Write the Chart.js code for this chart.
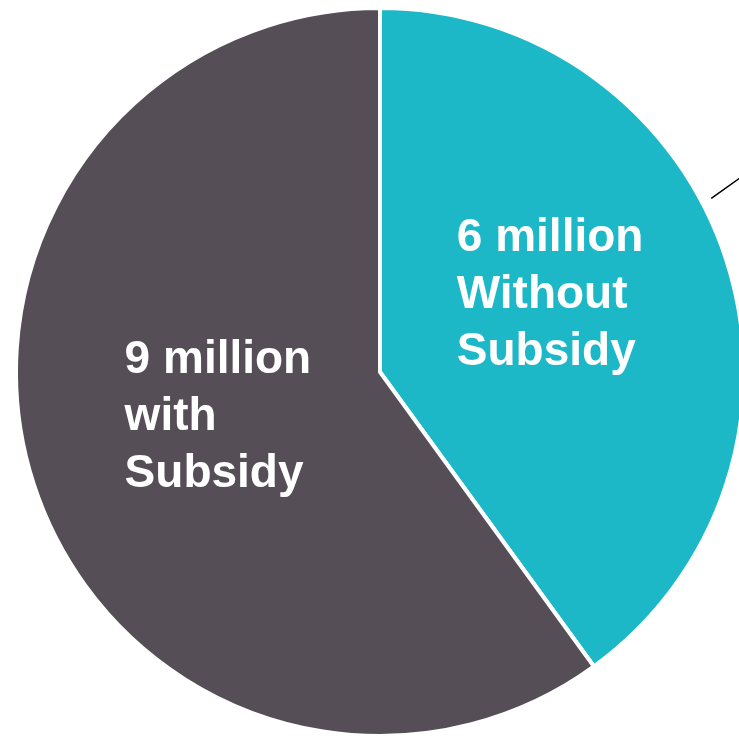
<!DOCTYPE html>
<html>
<head>
<meta charset="utf-8">
<script src="https://cdn.jsdelivr.net/npm/chart.js@4"></script>
<style>
  html, body { margin: 0; padding: 0; background: #ffffff; }
  #wrap { width: 739px; height: 738px; position: relative; overflow: hidden; }
</style>
</head>
<body>
<div id="wrap"><canvas id="subsidy-pie" width="739" height="738"></canvas></div>
<script>
  const categories = ["6 million Without Subsidy", "9 million with Subsidy"];
  const labelLines = [
    ["6 million", "Without", "Subsidy"],
    ["9 million", "with", "Subsidy"]
  ];
  const values = [6, 9]; // millions
  const sliceColors = ["#1cb8c8", "#554e56"];

  // white text drawn on each slice, left aligned block
  const sliceLabels = {
    id: "sliceLabels",
    afterDatasetsDraw(chart) {
      const { ctx } = chart;
      const arcs = chart.getDatasetMeta(0).data;
      // small nudges from the slice centroid
      const nudge = [
        { dx: -3, dy: -20 },
        { dx: 11, dy: -11 }
      ];
      ctx.save();
      ctx.font = "bold 46px Arial, 'Liberation Sans', sans-serif";
      ctx.fillStyle = "#ffffff";
      ctx.textBaseline = "middle";
      ctx.textAlign = "left";
      const lineH = 57;
      arcs.forEach((arc, i) => {
        const lines = labelLines[i];
        const pos = arc.tooltipPosition();
        const w = Math.max(...lines.map((l) => ctx.measureText(l).width));
        const x0 = pos.x - w / 2 + nudge[i].dx;
        const y0 = pos.y + nudge[i].dy - ((lines.length - 1) * lineH) / 2;
        lines.forEach((l, j) => ctx.fillText(l, x0, y0 + j * lineH));
      });

      // leader line going off the right edge
      const a = arcs[0];
      const ang = a.startAngle + 0.433 * (a.endAngle - a.startAngle);
      const sx = a.x + Math.cos(ang) * (a.outerRadius + 10);
      const sy = a.y + Math.sin(ang) * (a.outerRadius + 10);
      const dir = -Math.PI / 2 + (54.5 * Math.PI) / 180;
      ctx.strokeStyle = "#000000";
      ctx.lineWidth = 1.5;
      ctx.beginPath();
      ctx.moveTo(sx, sy);
      ctx.lineTo(sx + Math.cos(dir) * 40, sy + Math.sin(dir) * 40);
      ctx.stroke();
      ctx.restore();
    }
  };

  const el = document.getElementById("subsidy-pie").getContext("2d");
  new Chart(el, {
    type: "pie",
    data: {
      labels: categories,
      datasets: [
        {
          data: values,
          backgroundColor: sliceColors,
          borderColor: "#ffffff",
          borderWidth: 4,
          hoverOffset: 0,
          clip: false
        }
      ]
    },
    options: {
      responsive: false,
      animation: false,
      radius: 364,
      layout: { padding: { left: 21, right: 0, top: 6, bottom: 0 } },
      plugins: {
        legend: { display: false },
        tooltip: { enabled: false },
        title: { display: false }
      }
    },
    plugins: [sliceLabels]
  });
</script>
</body>
</html>
